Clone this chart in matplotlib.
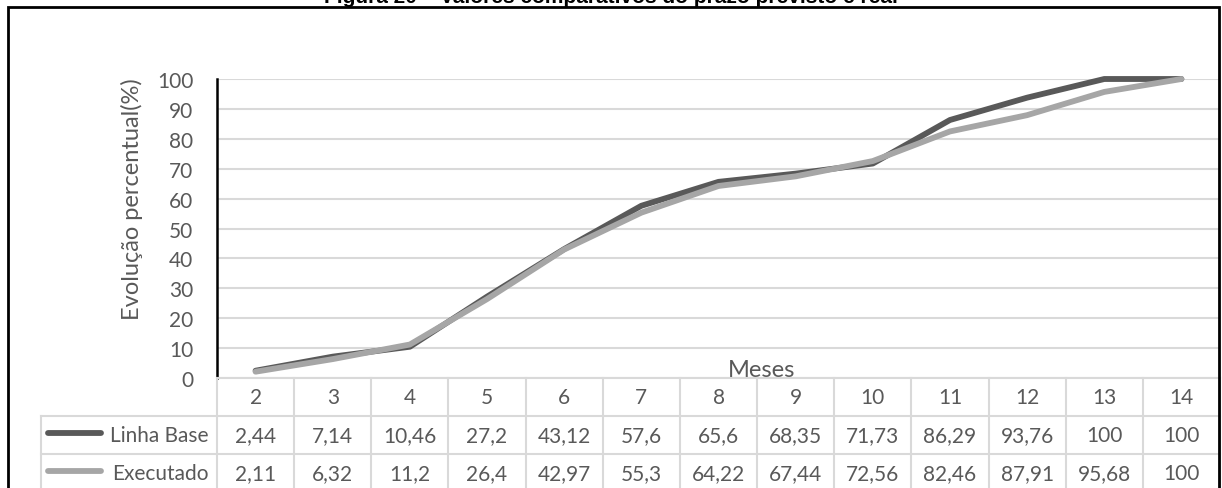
import numpy as np
import matplotlib
matplotlib.use("Agg")
import matplotlib.pyplot as plt
from matplotlib.patches import Rectangle

meses = ["2", "3", "4", "5", "6", "7", "8", "9", "10", "11", "12", "13", "14"]
linha_base = [2.44, 7.14, 10.46, 27.2, 43.12, 57.6, 65.6, 68.35, 71.73, 86.29, 93.76, 100, 100]
executado = [2.11, 6.32, 11.2, 26.4, 42.97, 55.3, 64.22, 67.44, 72.56, 82.46, 87.91, 95.68, 100]
series_names = ["Linha Base", "Executado"]
series_colors = ["#595959", "#a6a6a6"]
titulo = "Figura 20 \u2013 Valores comparativos do prazo previsto e real"

W, H = 1222, 489
plt.rcParams['font.family'] = ['Lato', 'DejaVu Sans']
txt_color = "#595959"
grid_color = "#d9d9d9"

fig = plt.figure(figsize=(W / 100, H / 100), dpi=100)

# pixel helpers
def fx(px):
    return px / W

def fy(py):
    return 1 - py / H

left, right, top, bottom = 217, 1220, 80, 379
ax = fig.add_axes([fx(left), fy(bottom), fx(right - left), (bottom - top) / H])
x = np.arange(len(meses))
ax.set_xlim(-0.5, len(meses) - 0.5)
ax.set_ylim(0, 100)
ax.set_yticks(np.arange(0, 101, 10))
ax.yaxis.grid(True, color=grid_color, lw=1.5)
ax.set_axisbelow(True)
ax.set_xticks([])
ax.tick_params(axis='y', length=0, pad=17, labelsize=15, labelcolor=txt_color)
for s in ['top', 'right', 'bottom']:
    ax.spines[s].set_visible(False)
ax.spines['left'].set_color('black')
ax.spines['left'].set_linewidth(1.8)

data = [linha_base, executado]
for vals, c in zip(data, series_colors):
    ax.plot(x, vals, color=c, lw=4.2, solid_capstyle='round', clip_on=False)

ax.text((762 - left) / (right - left), 0.67, "Meses", transform=ax.get_yaxis_transform(),
        ha='center', va='baseline', fontsize=17, color=txt_color)

fig.text(fx(132), fy(199), "Evolução percentual(%)", rotation=90, ha='center', va='center',
         fontsize=17, color=txt_color)

# data table below the plot
row_h = 38
tab = fig.add_axes([fx(left), fy(bottom + 3 * row_h), fx(right - left), 3 * row_h / H])
tab.set_xlim(-0.5, len(meses) - 0.5)
tab.set_ylim(3, 0)
tab.axis('off')
lab_left = -(left - 41) / (right - left)
yt = tab.get_yaxis_transform()
# horizontal lines
for r in [0, 1, 2, 3]:
    if r == 0:
        tab.plot([-0.5, len(meses) - 0.5], [r, r], color=grid_color, lw=1.5, clip_on=False)
    else:
        tab.plot([lab_left, 1], [r, r], color=grid_color, lw=1.5, clip_on=False, transform=yt)
# vertical lines
for i in range(len(meses) + 1):
    tab.plot([i - 0.5, i - 0.5], [0, 3], color=grid_color, lw=1.5, clip_on=False)
tab.plot([lab_left, lab_left], [1, 3], color=grid_color, lw=1.5, clip_on=False, transform=yt)

def fmt(v):
    return ("%g" % v).replace(".", ",")

for i, m in enumerate(meses):
    tab.text(i, 0.5, m, ha='center', va='center', fontsize=15, color=txt_color)
for r, (name, vals, c) in enumerate(zip(series_names, data, series_colors), start=1):
    for i, v in enumerate(vals):
        tab.text(i, r + 0.5, fmt(v), ha='center', va='center', fontsize=15, color=txt_color)
    tab.text(-(left - 209) / (right - left), r + 0.5, name, transform=yt, ha='right', va='center',
             fontsize=15, color=txt_color)
    key_x0 = -(left - 48) / (right - left)
    key_x1 = -(left - 101) / (right - left)
    tab.plot([key_x0, key_x1], [r + 0.45, r + 0.45], color=c, lw=4.2, solid_capstyle='round',
             clip_on=False, transform=yt)

# outer frame
fig.add_artist(Rectangle((fx(8), fy(H + 20)), fx(1219 - 8), (H + 20 - 8) / H,
                         transform=fig.transFigure, fill=False, ec='black', lw=2))

fig.text(0.5, fy(3), titulo, ha='center', va='baseline', fontsize=15, fontweight='bold',
         family=['Liberation Sans', 'DejaVu Sans'], color='black')

fig.savefig("out.png", dpi=100)
